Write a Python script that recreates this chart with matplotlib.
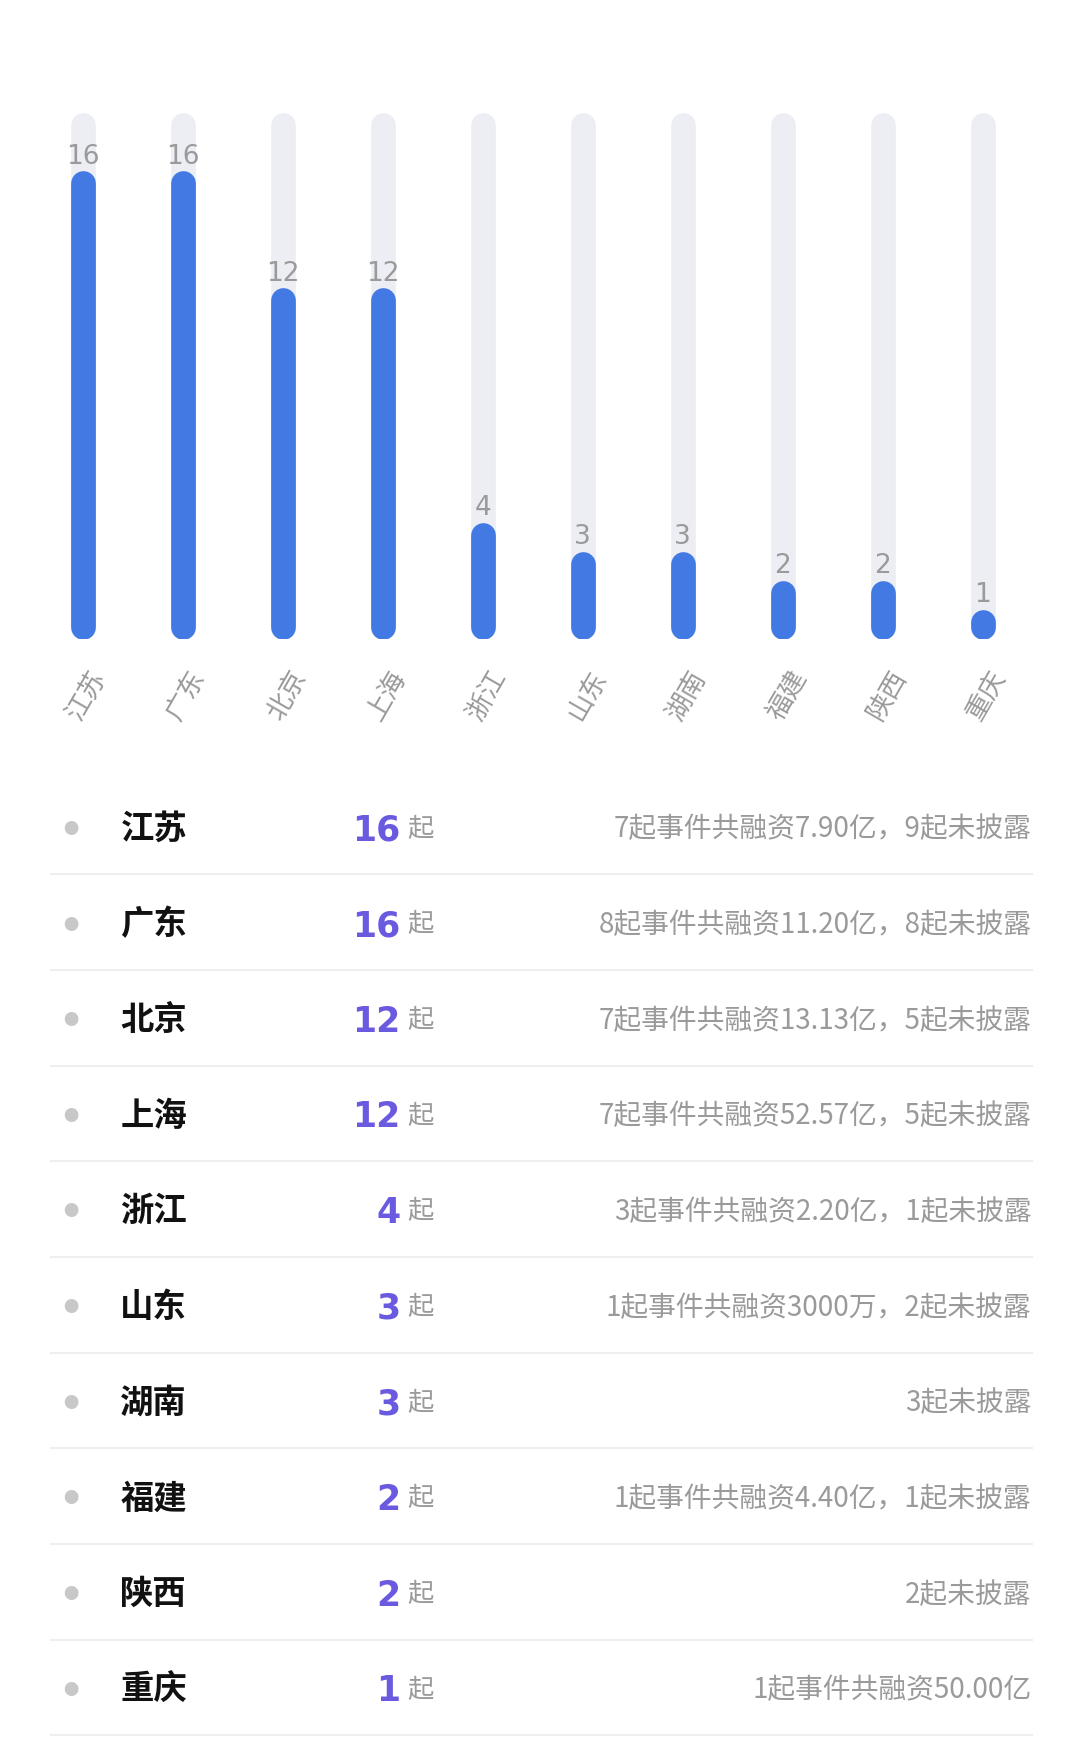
import matplotlib
matplotlib.use("Agg")
import matplotlib.pyplot as plt

provinces = ["江苏", "广东", "北京", "上海", "浙江", "山东", "湖南", "福建", "陕西", "重庆"]
counts = [16, 16, 12, 12, 4, 3, 3, 2, 2, 1]
details = ["7起事件共融资7.90亿，9起未披露", "8起事件共融资11.20亿，8起未披露",
           "7起事件共融资13.13亿，5起未披露", "7起事件共融资52.57亿，5起未披露",
           "3起事件共融资2.20亿，1起未披露", "1起事件共融资3000万，2起未披露",
           "3起未披露", "1起事件共融资4.40亿，1起未披露", "2起未披露",
           "1起事件共融资50.00亿"]
track_max = 18.0

plt.rcParams["font.family"] = "Noto Sans CJK SC"
W, H = 960.0, 1564.0
fig = plt.figure(figsize=(10.8, 17.6), dpi=100)
fig.patch.set_facecolor("white")
def fx(x): return x / W
def fy(y): return 1 - y / H

ax = fig.add_axes([fx(29), fy(568), fx(918) - fx(29), (568 - 100) / H])
ax.set_xlim(-0.5, len(provinces) - 0.5)
ax.set_ylim(0, track_max)
ax.axis("off")
r = 11 / 26.0
lw = 22 * 1.125 * 72 / 100
for i, v in enumerate(counts):
    ax.plot([i, i], [r, track_max - r], color="#ECEEF4", lw=lw, solid_capstyle="round", zorder=1)
    ax.plot([i, i], [r, v - r], color="#4279E3", lw=lw, solid_capstyle="round", zorder=2)
    ax.text(i, v + 0.05, str(v), ha="center", va="bottom", fontsize=19, color="#9A9A9A",
            fontfamily="DejaVu Sans")
for i, p in enumerate(provinces):
    x_disp = 73 + i * 88.9
    fig.text(fx(x_disp + 4), fy(618), p, rotation=60, ha="center", va="center",
             fontsize=19, color="#9A9A9A")

for i, (p, c, d) in enumerate(zip(provinces, counts, details)):
    y = 737 + i * 85
    fig.text(fx(63), fy(y), "●", ha="center", va="center", fontsize=11, color="#C8C8C8")
    fig.text(fx(107), fy(y), p, ha="left", va="center", fontsize=24, fontweight="bold", color="#111111")
    fig.text(fx(356), fy(y + 1), str(c), ha="right", va="center", fontsize=25, fontweight="bold",
             color="#6A5ADF", fontfamily="DejaVu Sans")
    fig.text(fx(362), fy(y), "起", ha="left", va="center", fontsize=19, color="#9A9A9A")
    fig.text(fx(917), fy(y), d, ha="right", va="center", fontsize=20, color="#9A9A9A")
    ly = y + 40
    fig.add_artist(plt.Line2D([fx(45), fx(917)], [fy(ly), fy(ly)], color="#EEEEEE", lw=1.5))

fig.savefig("out.png", dpi=100, facecolor="white")
